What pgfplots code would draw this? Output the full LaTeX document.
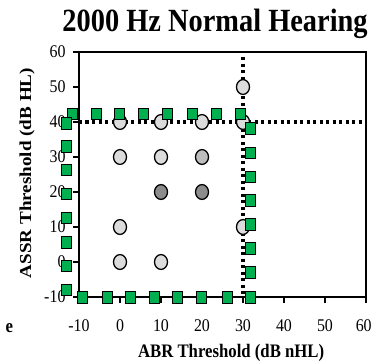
\documentclass[border=0pt]{standalone}
\usepackage{pgfplots}
\pgfplotsset{compat=1.18}
\usepackage{fontspec}
\setmainfont{Liberation Serif}
\definecolor{grn}{HTML}{00B050}
\definecolor{lg}{HTML}{DCDCDC}
\definecolor{mg}{HTML}{BDBDBD}
\definecolor{dg}{HTML}{8C8C8C}
\begin{document}
\begin{tikzpicture}
\begin{axis}[
  at={(79bp,67bp)}, anchor=south west,
  scale only axis, width=287bp, height=245bp,
  xmin=-10, xmax=60, ymin=-10, ymax=60,
  xtick={-10,0,10,20,30,40,50,60}, ytick={-10,0,10,20,30,40,50,60},
  xticklabels={-10,0,10,20,30,40,50,\hspace*{-4.5bp}60},
  yticklabels={-10,0,10,20,30,40,50,60},
  tick align=outside, xtick pos=bottom, ytick pos=left,
  major tick length=6bp,
  axis line style={line width=1.6bp},
  every tick/.style={black, line width=1.6bp},
  clip=false,
  every tick label/.append style={font=\fontsize{16}{16}\selectfont, yscale=1.12},
  xticklabel style={yshift=-11bp},
  yticklabel style={xshift=-4bp},
]
% circles
\addplot[only marks, mark=*, mark size=6.5bp, mark options={yscale=1.14, fill=lg, draw=black, line width=1.3bp}]
  coordinates {(0,40)(10,40)(20,40)(30,40)(30,50)(0,30)(10,30)(0,10)(30,10)(0,0)(10,0)};
\addplot[only marks, mark=*, mark size=6.5bp, mark options={yscale=1.14, fill=mg, draw=black, line width=1.3bp}]
  coordinates {(20,30)};
\addplot[only marks, mark=*, mark size=6.5bp, mark options={yscale=1.14, fill=dg, draw=black, line width=1.3bp}]
  coordinates {(10,20)(20,20)};
% dotted cut-off lines
\addplot[black, line width=3.2bp, dash pattern=on 3.2bp off 3.3bp] coordinates {(30,58.5)(30,-10)};
\addplot[black, line width=3.2bp, dash pattern=on 3.2bp off 3.3bp] coordinates {(-10,40)(59,40)};
% green square border
\addplot[only marks, mark=square*, mark size=5bp, mark options={yscale=1.14, fill=grn, draw=none}]
  coordinates {
  (-11.7,42.3)(-5.85,42.3)(-0.2,42.3)(5.6,42.3)(11.6,42.3)(17.5,42.3)(23.4,42.3)(29.2,42.3)
  (-13.2,39.7)(-13.2,33.1)(-13.2,26.4)(-13.2,19.5)(-13.2,12.6)(-13.2,5.7)(-13.2,-1.1)(-13.2,-7.9)
  (-9.1,-10.1)(-3.1,-10.1)(2.6,-10.1)(8.3,-10.1)(14.0,-10.1)(19.9,-10.1)(26.1,-10.1)(31.8,-10.1)
  (31.7,38.2)(31.7,31.3)(31.7,24.4)(31.7,17.7)(31.7,10.8)(31.7,3.9)(31.7,-2.9)
  };
% title and labels
\node[anchor=base, font=\fontsize{28.5}{28.5}\selectfont\bfseries, yscale=1.14] at (axis description cs:0.474,1.082) {2000 Hz Normal Hearing};
\node[anchor=base, font=\fontsize{16.8}{16.8}\selectfont\bfseries, yscale=1.14] at (axis description cs:0.53,-0.245) {ABR Threshold (dB nHL)};
\node[anchor=base, rotate=90, font=\fontsize{16.8}{16.8}\selectfont\bfseries, xscale=1.14] at (axis description cs:-0.167,0.506) {ASSR Threshold (dB HL)};
\node[anchor=base west, font=\fontsize{16.8}{16.8}\selectfont\bfseries, yscale=1.14] at (axis description cs:-0.268,-0.143) {e};
\end{axis}
\pgfresetboundingbox
\useasboundingbox (0,0) rectangle (372bp,364bp);
\end{tikzpicture}
\end{document}
